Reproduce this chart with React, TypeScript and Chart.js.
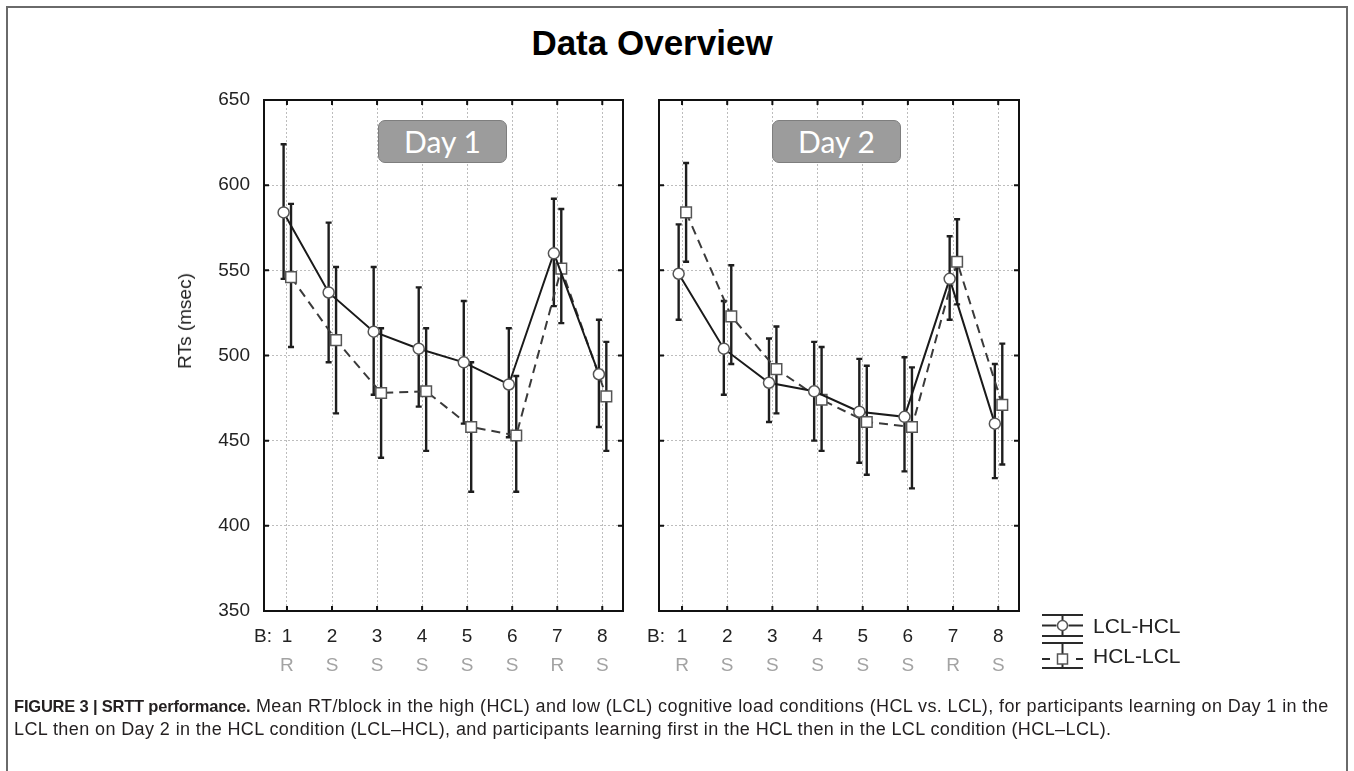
import React, { useEffect, useRef } from 'react';
import { Chart, registerables } from 'chart.js';

Chart.register(...registerables);

// ---------------- data ----------------
const blocks = [1, 2, 3, 4, 5, 6, 7, 8];
const blockTypes = ['R', 'S', 'S', 'S', 'S', 'S', 'R', 'S'];
const yTicks = [350, 400, 450, 500, 550, 600, 650];
const seriesNames = ['LCL-HCL', 'HCL-LCL'];
const panelTitles = ['Day 1', 'Day 2'];

const day1LclHcl = [584, 537, 514, 504, 496, 483, 560, 489];
const day1LclHclLow = [545, 496, 477, 470, 460, 452, 529, 458];
const day1LclHclHigh = [624, 578, 552, 540, 532, 516, 592, 521];
const day1HclLcl = [546, 509, 478, 479, 458, 453, 551, 476];
const day1HclLclLow = [505, 466, 440, 444, 420, 420, 519, 444];
const day1HclLclHigh = [589, 552, 516, 516, 496, 488, 586, 508];

const day2LclHcl = [548, 504, 484, 479, 467, 464, 545, 460];
const day2LclHclLow = [521, 477, 461, 450, 437, 432, 521, 428];
const day2LclHclHigh = [577, 532, 510, 508, 498, 499, 570, 495];
const day2HclLcl = [584, 523, 492, 474, 461, 458, 555, 471];
const day2HclLclLow = [555, 495, 466, 444, 430, 422, 530, 436];
const day2HclLclHigh = [613, 553, 517, 505, 494, 493, 580, 507];

// ---------------- layout / style ----------------
const W = 1354;
const H = 771;
const PLOT_TOP = 100;
const PLOT_BOTTOM = 611;
const XAXIS_H = 36;
const XTYPE_H = 43;
const FONT = "'Liberation Sans', Arial, Helvetica, sans-serif";
const X_MIN = 0.49;
const X_MAX = 8.46;
const OFFSET_LCL = -0.075;
const OFFSET_HCL = 0.09;

const errorBarPlugin = {
  id: 'errorBars',
  beforeDatasetsDraw(chart: any) {
    const { ctx } = chart;
    const xs = chart.scales.x;
    const ys = chart.scales.y;
    chart.data.datasets.forEach((ds: any) => {
      ctx.save();
      ctx.strokeStyle = '#1e1e1e';
      ctx.lineWidth = 2.4;
      ctx.setLineDash([]);
      ds.data.forEach((p: any, i: number) => {
        const px = xs.getPixelForValue(p.x);
        const yl = ys.getPixelForValue(ds.errLow[i]);
        const yh = ys.getPixelForValue(ds.errHigh[i]);
        ctx.beginPath();
        ctx.moveTo(px, yl);
        ctx.lineTo(px, yh);
        ctx.moveTo(px - 3, yl);
        ctx.lineTo(px + 3, yl);
        ctx.moveTo(px - 3, yh);
        ctx.lineTo(px + 3, yh);
        ctx.stroke();
      });
      ctx.restore();
    });
  },
};

const framePlugin = {
  id: 'frame',
  afterDraw(chart: any) {
    const { ctx, chartArea: a } = chart;
    const xs = chart.scales.x;
    const ys = chart.scales.y;
    ctx.save();
    ctx.strokeStyle = '#111';
    ctx.lineWidth = 2;
    ctx.setLineDash([]);
    ctx.strokeRect(a.left, a.top, a.right - a.left, a.bottom - a.top);
    ctx.beginPath();
    yTicks.forEach((v) => {
      const py = ys.getPixelForValue(v);
      ctx.moveTo(a.left, py);
      ctx.lineTo(a.left + 5, py);
      ctx.moveTo(a.right, py);
      ctx.lineTo(a.right - 5, py);
    });
    blocks.forEach((v) => {
      const px = xs.getPixelForValue(v);
      ctx.moveTo(px, a.top);
      ctx.lineTo(px, a.top + 5);
      ctx.moveTo(px, a.bottom);
      ctx.lineTo(px, a.bottom - 5);
    });
    ctx.stroke();
    ctx.restore();
  },
};

const legendPlugin = {
  id: 'seriesLegend',
  afterDraw(chart: any) {
    if (!chart.options.plugins.seriesLegend?.show) return;
    const ctx = chart.ctx;
    const x0 = 1042;
    const x1 = 1083;
    const cx = 1062.5;
    ctx.save();
    ctx.strokeStyle = '#2a2a2a';
    ctx.lineWidth = 2;
    const line = (a: number, b: number, y: number) => {
      ctx.beginPath();
      ctx.moveTo(a, y);
      ctx.lineTo(b, y);
      ctx.stroke();
    };
    const vline = (x: number, a: number, b: number) => {
      ctx.beginPath();
      ctx.moveTo(x, a);
      ctx.lineTo(x, b);
      ctx.stroke();
    };
    // LCL-HCL
    line(x0, x1, 615);
    line(x0, x1, 636);
    vline(cx, 615, 636);
    line(x0, cx - 6, 625.5);
    line(cx + 6, x1, 625.5);
    ctx.beginPath();
    ctx.arc(cx, 625.5, 5, 0, Math.PI * 2);
    ctx.fillStyle = '#fff';
    ctx.fill();
    ctx.lineWidth = 1.5;
    ctx.strokeStyle = '#555';
    ctx.stroke();
    // HCL-LCL
    ctx.lineWidth = 2;
    ctx.strokeStyle = '#2a2a2a';
    line(x0, x1, 643);
    line(x0, x1, 668);
    vline(cx, 643, 668);
    line(x0, x0 + 8, 659);
    line(x1 - 7, x1, 659);
    ctx.fillStyle = '#fff';
    ctx.fillRect(cx - 5, 654, 10, 10);
    ctx.lineWidth = 1.5;
    ctx.strokeStyle = '#555';
    ctx.strokeRect(cx - 5, 654, 10, 10);
    // text
    ctx.fillStyle = '#222';
    ctx.font = `21px ${FONT}`;
    ctx.textAlign = 'left';
    ctx.textBaseline = 'middle';
    ctx.fillText(seriesNames[0], 1093, 627);
    ctx.fillText(seriesNames[1], 1093, 657);
    ctx.restore();
  },
};

type PanelSpec = {
  left: number;
  right: number;
  showY: boolean;
  legend: boolean;
  lcl: number[];
  lclLow: number[];
  lclHigh: number[];
  hcl: number[];
  hclLow: number[];
  hclHigh: number[];
};

function makeDataset(label: string, vals: number[], lo: number[], hi: number[], off: number, dashed: boolean) {
  return {
    label,
    data: vals.map((v, i) => ({ x: blocks[i] + off, y: v })),
    errLow: lo,
    errHigh: hi,
    borderColor: dashed ? '#3a3a3a' : '#1a1a1a',
    borderWidth: 2,
    borderDash: dashed ? [9, 6] : [],
    pointStyle: dashed ? 'rect' : 'circle',
    pointRadius: dashed ? 7.5 : 5.5,
    pointHoverRadius: dashed ? 7.5 : 5.5,
    pointBackgroundColor: '#ffffff',
    pointBorderColor: '#555555',
    pointBorderWidth: 1.5,
    tension: 0,
    fill: false,
  };
}

function makeConfig(p: PanelSpec): any {
  const tickFont = { family: FONT, size: 19 };
  const setXTicks = (s: any) => {
    s.ticks = blocks.map((v) => ({ value: v }));
  };
  return {
    type: 'line',
    data: {
      datasets: [
        makeDataset(seriesNames[0], p.lcl, p.lclLow, p.lclHigh, OFFSET_LCL, false),
        makeDataset(seriesNames[1], p.hcl, p.hclLow, p.hclHigh, OFFSET_HCL, true),
      ],
    },
    options: {
      responsive: false,
      animation: false,
      events: [],
      layout: { padding: { left: 0, right: W - p.right, top: PLOT_TOP, bottom: H - PLOT_BOTTOM - XAXIS_H - XTYPE_H } },
      plugins: {
        legend: { display: false },
        tooltip: { enabled: false },
        title: { display: false },
        seriesLegend: { show: p.legend },
      },
      scales: {
        x: {
          type: 'linear',
          position: 'bottom',
          weight: 0,
          min: X_MIN,
          max: X_MAX,
          afterBuildTicks: setXTicks,
          afterFit: (s: any) => {
            s.height = XAXIS_H;
          },
          grid: { color: '#bdbdbd', lineWidth: 1, drawTicks: false },
          border: { display: false, dash: [2, 2] },
          ticks: {
            padding: 14,
            color: '#222',
            font: tickFont,
            maxRotation: 0,
            autoSkip: false,
            callback: (v: number) => String(v),
          },
        },
        xType: {
          type: 'linear',
          position: 'bottom',
          weight: 1,
          min: X_MIN,
          max: X_MAX,
          afterBuildTicks: setXTicks,
          afterFit: (s: any) => {
            s.height = XTYPE_H;
          },
          grid: { display: false, drawTicks: false },
          border: { display: false },
          ticks: {
            padding: 7,
            color: '#a3a3a3',
            font: tickFont,
            maxRotation: 0,
            autoSkip: false,
            callback: (_v: number, i: number) => blockTypes[i],
          },
        },
        y: {
          type: 'linear',
          position: 'left',
          min: 350,
          max: 650,
          afterBuildTicks: (s: any) => {
            s.ticks = yTicks.map((v) => ({ value: v }));
          },
          afterFit: (s: any) => {
            s.width = p.left;
          },
          grid: { color: '#bdbdbd', lineWidth: 1, drawTicks: false },
          border: { display: false, dash: [2, 2] },
          ticks: {
            display: p.showY,
            padding: 14,
            color: '#222',
            font: tickFont,
            callback: (v: number) => String(v),
          },
        },
      },
    },
    plugins: [errorBarPlugin, framePlugin, legendPlugin],
  };
}

const dayBoxStyle = (left: number): React.CSSProperties => ({
  position: 'absolute',
  left,
  top: 120,
  width: 127,
  height: 41,
  background: '#9c9c9c',
  border: '1.5px solid #7e7e7e',
  borderRadius: 7,
  color: '#fff',
  fontFamily: "Lato, 'Open Sans', sans-serif",
  fontSize: 30,
  lineHeight: '41px',
  textAlign: 'center',
  zIndex: 3,
});

const bLabelStyle = (left: number): React.CSSProperties => ({
  position: 'absolute',
  left,
  top: 625,
  fontFamily: FONT,
  fontSize: 19,
  lineHeight: '22px',
  color: '#222',
  zIndex: 3,
});

const captionBold: React.CSSProperties = { fontWeight: 'bold', fontSize: 16.5, letterSpacing: '-0.2px' };

export default function App() {
  const leftRef = useRef<HTMLCanvasElement>(null);
  const rightRef = useRef<HTMLCanvasElement>(null);

  useEffect(() => {
    document.body.style.margin = '0';
    document.body.style.overflow = 'hidden';
    const c1 = new Chart(
      leftRef.current as HTMLCanvasElement,
      makeConfig({
        left: 264,
        right: 623,
        showY: true,
        legend: false,
        lcl: day1LclHcl,
        lclLow: day1LclHclLow,
        lclHigh: day1LclHclHigh,
        hcl: day1HclLcl,
        hclLow: day1HclLclLow,
        hclHigh: day1HclLclHigh,
      })
    );
    const c2 = new Chart(
      rightRef.current as HTMLCanvasElement,
      makeConfig({
        left: 659,
        right: 1019,
        showY: false,
        legend: true,
        lcl: day2LclHcl,
        lclLow: day2LclHclLow,
        lclHigh: day2LclHclHigh,
        hcl: day2HclLcl,
        hclLow: day2HclLclLow,
        hclHigh: day2HclLclHigh,
      })
    );
    return () => {
      c1.destroy();
      c2.destroy();
    };
  }, []);

  return (
    <div style={{ position: 'fixed', left: 0, top: 0, width: W, height: H, overflow: 'hidden', background: '#fff' }}>
      <div
        style={{
          position: 'absolute',
          left: 6,
          top: 6,
          width: W - 12,
          height: H + 20,
          border: '2px solid #6a6a6a',
          boxSizing: 'border-box',
        }}
      />
      <div
        style={{
          position: 'absolute',
          left: 452,
          top: 23,
          width: 400,
          textAlign: 'center',
          fontFamily: FONT,
          fontWeight: 'bold',
          fontSize: 35,
          lineHeight: '40px',
          color: '#000',
        }}
      >
        Data Overview
      </div>
      <canvas ref={leftRef} width={W} height={H} style={{ position: 'absolute', left: 0, top: 0, zIndex: 1 }} />
      <canvas ref={rightRef} width={W} height={H} style={{ position: 'absolute', left: 0, top: 0, zIndex: 2 }} />
      <div style={dayBoxStyle(378)}>{panelTitles[0]}</div>
      <div style={dayBoxStyle(772)}>{panelTitles[1]}</div>
      <div style={bLabelStyle(254)}>B:</div>
      <div style={bLabelStyle(647)}>B:</div>
      <div
        style={{
          position: 'absolute',
          left: 185,
          top: 321,
          transform: 'translate(-50%, -50%) rotate(-90deg)',
          fontFamily: FONT,
          fontSize: 19,
          lineHeight: '22px',
          whiteSpace: 'nowrap',
          color: '#222',
          zIndex: 3,
        }}
      >
        RTs (msec)
      </div>
      <div
        style={{
          position: 'absolute',
          left: 14,
          top: 695,
          fontFamily: FONT,
          fontSize: 18,
          letterSpacing: '0.4px',
          lineHeight: '23px',
          whiteSpace: 'nowrap',
          color: '#231f20',
          zIndex: 3,
        }}
      >
        <span style={captionBold}>FIGURE 3 | SRTT performance.</span> Mean RT/block in the high (HCL) and low (LCL)
        cognitive load conditions (HCL vs. LCL), for participants learning on Day 1 in the
        <br />
        LCL then on Day 2 in the HCL condition (LCL–HCL), and participants learning first in the HCL then in the LCL
        condition (HCL–LCL).
      </div>
    </div>
  );
}
